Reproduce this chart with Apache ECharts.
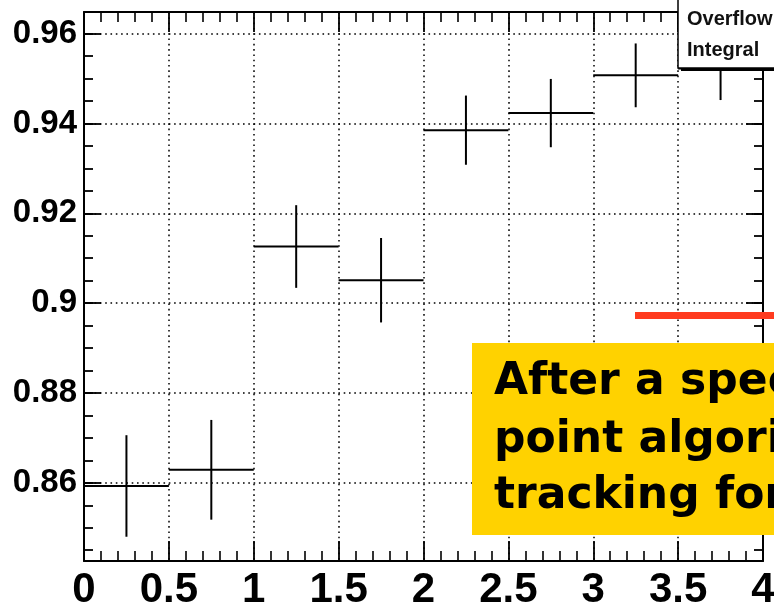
<!DOCTYPE html>
<html><head><meta charset="utf-8">
<script src="https://cdn.jsdelivr.net/npm/echarts@6/dist/echarts.min.js"></script>
<style>html,body{margin:0;padding:0;background:#fff}#c{width:774px;height:606px}</style>
</head><body><div id="c"></div>
<script>
// ---- data ----
const binLow  = [0, 0.5, 1, 1.5, 2, 2.5, 3, 3.5];
const binHigh = [0.5, 1, 1.5, 2, 2.5, 3, 3.5, 4];
const values  = [0.8593, 0.8629, 0.9126, 0.9051, 0.9385, 0.9423, 0.9507, 0.9522];
const errors  = [0.0113, 0.0111, 0.0092, 0.0094, 0.0077, 0.0076, 0.0071, 0.0070];
const legendLines = ['Overflow', 'Integral'];
const noteLines = ['After a special', 'point algorithm', 'tracking for'];

const X_MIN = 0, X_MAX = 4, X_STEP = 0.5;
const Y_MIN = 0.8426, Y_MAX = 0.9648;

const chart = echarts.init(document.getElementById('c'), null, {renderer: 'canvas'});
const font = "'Liberation Sans', Arial, Helvetica, sans-serif";
const dots = [1.6, 3.7];
const black = '#000';

function xAxisDef(pos, labels) {
  return {
    type: 'value', position: pos, min: X_MIN, max: X_MAX, interval: X_STEP,
    axisLine: {show: true, lineStyle: {color: black, width: 2}},
    axisTick: {show: true, inside: true, length: 20, lineStyle: {color: black, width: 1.8}},
    minorTick: {show: true, splitNumber: 5, length: 10, lineStyle: {color: black, width: 1.6}},
    axisLabel: {show: labels, color: black, fontFamily: font, fontWeight: 'bold', fontSize: 42, margin: 8},
    splitLine: {show: labels, lineStyle: {color: black, width: 1.5, type: dots}},
    minorSplitLine: {show: false}
  };
}
function yAxisDef(pos, major, labels) {
  return {
    type: 'value', position: pos, min: Y_MIN, max: Y_MAX,
    splitNumber: major ? 6 : 25,
    axisLine: {show: major, lineStyle: {color: black, width: 2}},
    axisTick: {show: true, inside: true, length: major ? 17 : 9, lineStyle: {color: black, width: 1.8}},
    axisLabel: {show: labels, color: black, fontFamily: font, fontWeight: 'bold', fontSize: 33, margin: 7,
                showMinLabel: false, showMaxLabel: false},
    splitLine: {show: labels, lineStyle: {color: black, width: 1.5, type: dots}}
  };
}

const seriesData = binLow.map((lo, i) => [lo, binHigh[i], values[i], errors[i]]);

const option = {
  animation: false,
  backgroundColor: '#fff',
  grid: {left: 84, right: 11, top: 12, bottom: 45, containLabel: false, outerBoundsMode: 'none'},
  xAxis: [xAxisDef('bottom', true), xAxisDef('top', false)],
  yAxis: [yAxisDef('left', true, true), yAxisDef('left', false, false),
          yAxisDef('right', true, false), yAxisDef('right', false, false)],
  series: [{
    type: 'custom',
    xAxisIndex: 0, yAxisIndex: 0,
    data: seriesData,
    encode: {x: [0, 1], y: [2]},
    renderItem: function (params, api) {
      const lo = api.value(0), hi = api.value(1), v = api.value(2), e = api.value(3);
      const c = (lo + hi) / 2;
      const pL = api.coord([lo, v]), pR = api.coord([hi, v]);
      const pT = api.coord([c, v + e]), pB = api.coord([c, v - e]);
      const st = {stroke: black, lineWidth: 2};
      return {type: 'group', children: [
        {type: 'line', shape: {x1: pL[0], y1: pL[1], x2: pR[0], y2: pR[1]}, style: st},
        {type: 'line', shape: {x1: pT[0], y1: pT[1], x2: pB[0], y2: pB[1]}, style: st}
      ]};
    },
    z: 5
  }],
  graphic: [
    // stat box (clipped at top/right in reference)
    {type: 'rect', z: 100, shape: {x: 681, y: -5, width: 110, height: 76}, style: {fill: black}},
    {type: 'rect', z: 101, shape: {x: 678, y: -5, width: 110, height: 73}, style: {fill: '#fff', stroke: black, lineWidth: 1.5}},
    {type: 'text', z: 102, style: {text: legendLines[0], x: 687, y: 19, fill: '#111', font: 'bold 20px ' + font, verticalAlign: 'middle'}},
    {type: 'text', z: 102, style: {text: legendLines[1], x: 687, y: 50, fill: '#111', font: 'bold 20px ' + font, verticalAlign: 'middle'}},
    // red marker line
    {type: 'rect', z: 100, shape: {x: 635, y: 312, width: 150, height: 7}, style: {fill: '#ff3b1f'}},
    // yellow note
    {type: 'rect', z: 100, shape: {x: 472, y: 343, width: 320, height: 192}, style: {fill: '#ffd200'}},
    {type: 'text', z: 101, style: {text: noteLines[0], x: 494, y: 383, fill: black, font: "bold 44px 'DejaVu Sans', sans-serif", verticalAlign: 'middle'}},
    {type: 'text', z: 101, style: {text: noteLines[1], x: 494, y: 441, fill: black, font: "bold 44px 'DejaVu Sans', sans-serif", verticalAlign: 'middle'}},
    {type: 'text', z: 101, style: {text: noteLines[2], x: 494, y: 497, fill: black, font: "bold 44px 'DejaVu Sans', sans-serif", verticalAlign: 'middle'}}
  ]
};
chart.setOption(option);
</script>
</body></html>
